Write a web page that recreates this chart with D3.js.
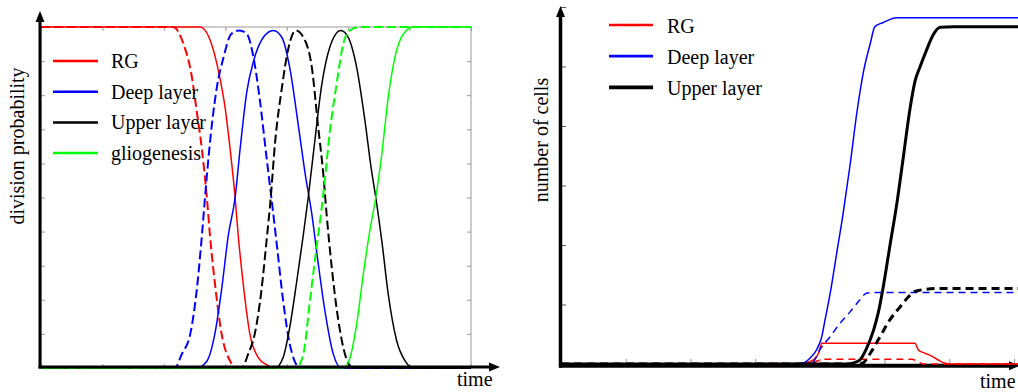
<!DOCTYPE html>
<html>
<head>
<meta charset="utf-8">
<script src="https://cdn.jsdelivr.net/npm/d3@7"></script>
<style>
  body { margin: 0; background: #fff; }
  svg { display: block; }
  svg text { font-family: 'Liberation Serif', 'DejaVu Serif', 'Times New Roman', serif; }
</style>
</head>
<body>
<svg id="chart" width="1018" height="392"></svg>
<script>
// ---- left panel: division probability over time, pairs are [time, probability]
const rgProb = [[0,1],[25.9,1],[28.1,.93],[28.9,.87],[30.0,.76],[30.8,.64],[31.6,.5],[32.1,.39],[32.9,.25],[34.0,.10],[35.4,.03],[36.7,.01],[38.1,0],[70,0]];
const rgProbDash = [[0,1],[21.5,1],[23.2,.95],[24.5,.86],[25.3,.76],[26.2,.64],[27.0,.5],[27.5,.39],[28.3,.25],[29.4,.10],[30.8,.02],[31.9,0],[70,0]];
const deepProbDash = [[0,0],[21.8,0],[22.9,.04],[24.3,.10],[25.3,.22],[26.2,.39],[26.7,.5],[27.5,.66],[28.6,.82],[29.7,.91],[31.0,.98],[32.3,.99],[33.5,.98],[34.6,.91],[35.6,.79],[36.7,.62],[37.5,.5],[38.4,.36],[39.4,.2],[40.5,.07],[42.2,0],[70,0]];
const deepProb = [[0,0],[25.3,0],[27.0,.02],[28.3,.10],[29.4,.23],[30.5,.39],[31.6,.5],[32.4,.64],[33.5,.81],[34.6,.90],[36.2,.97],[37.8,.99],[39.2,.97],[40.5,.88],[41.9,.71],[43.0,.57],[44.1,.45],[45.1,.31],[46.2,.17],[47.6,.04],[48.9,0],[70,0]];
const upperProbDash = [[0,0],[32.7,0],[33.7,.04],[34.8,.10],[35.9,.23],[36.7,.37],[37.4,.5],[38.1,.66],[39.2,.82],[40.3,.94],[41.5,.99],[42.7,.97],[44.1,.88],[45.1,.71],[46.0,.56],[46.5,.45],[47.3,.30],[48.4,.14],[49.5,.04],[50.8,0],[70,0]];
const upperProb = [[0,0],[38.1,0],[39.4,.03],[40.5,.12],[41.6,.25],[42.7,.39],[43.5,.5],[44.6,.67],[45.7,.83],[47.0,.94],[48.8,.99],[50.0,.97],[51.4,.88],[52.7,.73],[53.8,.58],[54.5,.5],[55.5,.37],[56.5,.22],[57.9,.08],[59.3,.02],[60.6,0],[70,0]];
const glioProbDash = [[0,0],[41.5,0],[42.7,.04],[43.8,.20],[44.9,.36],[45.7,.47],[46.2,.55],[47.0,.69],[48.1,.83],[49.2,.95],[50.3,.99],[51.9,1],[70,1]];
const glioProb = [[0,0],[49.2,0],[50.3,.03],[51.4,.13],[52.5,.28],[53.6,.41],[54.5,.5],[55.5,.63],[56.5,.79],[57.6,.91],[59.0,.98],[60.6,1],[70,1]];
const leftLegend = ['RG', 'Deep layer', 'Upper layer', 'gliogenesis'];

// ---- right panel: number of cells over time, pairs are [time, cells]
const rgCells = [[0,0],[3.6,0],[3.75,.01],[3.90,.07],[3.98,.18],[4.03,.35],[5.47,.35],[5.52,.24],[5.60,.19],[5.70,.15],[5.81,.08],[5.91,.02],[5.99,0],[7.1,0]];
const rgCellsDash = [[0,0],[3.85,.01],[3.98,.06],[4.08,.08],[5.42,.08],[5.50,.05],[5.60,0],[7.1,0]];
const deepCellsDash = [[0,0],[3.8,0],[3.90,.04],[4.0,.24],[4.16,.46],[4.31,.68],[4.47,.88],[4.62,1.08],[4.72,1.19],[4.83,1.20],[7.1,1.20]];
const upperCellsDash = [[0,0],[4.6,0],[4.67,.02],[4.78,.18],[4.93,.46],[5.08,.74],[5.24,.96],[5.37,1.13],[5.47,1.22],[5.60,1.25],[5.86,1.27],[7.1,1.27]];
const deepCells = [[0,0],[3.59,0],[3.75,.02],[3.85,.10],[3.95,.24],[4.03,.46],[4.08,.74],[4.16,1.19],[4.26,1.86],[4.36,2.53],[4.47,3.37],[4.57,4.21],[4.67,4.89],[4.78,5.39],[4.85,5.67],[4.98,5.74],[5.19,5.82],[7.1,5.82]];
const upperCells = [[0,0],[4.45,0],[4.52,.02],[4.62,.07],[4.72,.26],[4.83,.57],[4.90,.85],[4.98,1.30],[5.08,1.97],[5.19,2.70],[5.29,3.48],[5.39,4.27],[5.47,4.75],[5.55,5.00],[5.65,5.28],[5.75,5.53],[5.86,5.66],[6.06,5.67],[7.1,5.67]];
const rightLegend = ['RG', 'Deep layer', 'Upper layer'];

const serif = "'Liberation Serif', 'DejaVu Serif', serif";
const svg = d3.select('#chart').attr('font-family', serif);

// arrow head helpers
function arrowUp(g, x, y) {
  g.append('path').attr('d', `M${x},${y} L${x - 4.5},${y + 11} L${x + 4.5},${y + 11} Z`).attr('fill', '#000');
}
function arrowRight(g, x, y) {
  g.append('path').attr('d', `M${x},${y} L${x - 11},${y - 4.5} L${x - 11},${y + 4.5} Z`).attr('fill', '#000');
}

function drawLine(g, line, data, color, width, dash) {
  g.append('path')
      .datum(data)
      .attr('d', line)
      .attr('fill', 'none')
      .attr('stroke', color)
      .attr('stroke-width', width)
      .attr('stroke-dasharray', dash || null)
      .attr('stroke-linejoin', 'round');
}

function addText(g, x, y, str) {
  return g.append('text').attr('x', x).attr('y', y)
      .attr('font-family', serif).attr('font-size', 20).text(str);
}

// =================== left panel ===================
const left = svg.append('g');
const xL = d3.scaleLinear().domain([0, 70]).range([41, 471]);
const yL = d3.scaleLinear().domain([0, 1]).range([368, 27]);

// gray frame
left.append('rect')
    .attr('x', xL(0)).attr('y', yL(1))
    .attr('width', xL(70) - xL(0)).attr('height', yL(0) - yL(1))
    .attr('fill', 'none').attr('stroke', '#999').attr('stroke-width', 1);

// inward gray ticks on all four sides
const grayTicks = (sel) => {
  sel.select('.domain').remove();
  sel.selectAll('.tick line').attr('stroke', '#999');
  sel.selectAll('.tick text').remove();
};
left.append('g').attr('transform', `translate(${xL(0)},0)`)
    .call(d3.axisRight(yL).ticks(10).tickSize(4)).call(grayTicks);
left.append('g').attr('transform', `translate(${xL(70)},0)`)
    .call(d3.axisLeft(yL).ticks(10).tickSize(4)).call(grayTicks);
left.append('g').attr('transform', `translate(0,${yL(0)})`)
    .call(d3.axisTop(xL).ticks(7).tickSize(4)).call(grayTicks);
left.append('g').attr('transform', `translate(0,${yL(1)})`)
    .call(d3.axisBottom(xL).ticks(7).tickSize(4)).call(grayTicks);

const lineL = d3.line().x(d => xL(d[0])).y(d => yL(d[1])).curve(d3.curveMonotoneX);
drawLine(left, lineL, rgProbDash, '#ff0000', 2, '9,4');
drawLine(left, lineL, rgProb, '#ff0000', 1.5);
drawLine(left, lineL, deepProbDash, '#0000ff', 2, '9,4');
drawLine(left, lineL, deepProb, '#0000ff', 1.5);
drawLine(left, lineL, upperProbDash, '#000000', 2, '9,4');
drawLine(left, lineL, upperProb, '#000000', 1.5);
drawLine(left, lineL, glioProbDash, '#00ff00', 2, '9,4');
drawLine(left, lineL, glioProb, '#00ff00', 1.5);

// black axes with arrows
left.append('line').attr('x1', 40).attr('x2', 40).attr('y1', 368.5).attr('y2', 18)
    .attr('stroke', '#000').attr('stroke-width', 3);
arrowUp(left, 40, 11);
left.append('line').attr('x1', 38.5).attr('x2', 492).attr('y1', 367).attr('y2', 367)
    .attr('stroke', '#000').attr('stroke-width', 3);
arrowRight(left, 500, 367);

addText(left, 457, 386, 'time');
left.append('text')
    .attr('transform', 'translate(24,146) rotate(-90)')
    .attr('text-anchor', 'middle').attr('font-size', 20).attr('font-family', serif)
    .text('division probability');

const legColorsL = ['#ff0000', '#0000ff', '#000000', '#00ff00'];
const legL = left.selectAll('.legL').data(leftLegend).enter().append('g')
    .attr('transform', (d, i) => `translate(53,${61 + i * 30.7})`);
legL.append('line').attr('x1', 0).attr('x2', 45)
    .attr('stroke', (d, i) => legColorsL[i]).attr('stroke-width', 2.5);
legL.append('text').attr('x', 58).attr('y', 7)
    .attr('font-family', serif).attr('font-size', 20).text(d => d);

// =================== right panel ===================
const right = svg.append('g');
const xR = d3.scaleLinear().domain([0, 7]).range([561, 1014]);
const yR = d3.scaleLinear().domain([0, 6]).range([364, 7]);

right.append('g').attr('transform', `translate(${xR(0)},0)`)
    .call(d3.axisRight(yR).ticks(6).tickSize(5))
    .call(sel => {
      sel.select('.domain').remove();
      sel.selectAll('.tick text').remove();
      sel.selectAll('.tick line').attr('stroke', '#555');
    });
right.append('g').attr('transform', `translate(0,${yR(0)})`)
    .call(d3.axisTop(xR).ticks(7).tickSize(5))
    .call(grayTicks);

// axes under the curves here, the red line rides on top of the x axis
right.append('line').attr('x1', 560.5).attr('x2', 560.5).attr('y1', 367.5).attr('y2', 15)
    .attr('stroke', '#000').attr('stroke-width', 3.5);
arrowUp(right, 560.5, 6);
right.append('line').attr('x1', 559).attr('x2', 1010).attr('y1', 365.7).attr('y2', 365.7)
    .attr('stroke', '#000').attr('stroke-width', 4);
arrowRight(right, 1020, 365.7);

const lineR = d3.line().x(d => xR(d[0])).y(d => yR(d[1])).curve(d3.curveMonotoneX);
drawLine(right, lineR, rgCells, '#ff0000', 1.5);
drawLine(right, lineR, rgCellsDash, '#ff0000', 1.5, '7,5');
drawLine(right, lineR, deepCellsDash, '#0000ff', 1.5, '7,5');
drawLine(right, lineR, upperCellsDash, '#000000', 3, '8,5');
drawLine(right, lineR, deepCells, '#0000ff', 1.5);
drawLine(right, lineR, upperCells, '#000000', 3);

// kept just inside the right edge so the label is not clipped
addText(right, 980, 388, 'time');
right.append('text')
    .attr('transform', 'translate(548,140) rotate(-90)')
    .attr('text-anchor', 'middle').attr('font-size', 20).attr('font-family', serif)
    .text('number of cells');

const legColorsR = ['#ff0000', '#0000ff', '#000000'];
const legWidthR = [2.7, 2.7, 3.7];
const legR = right.selectAll('.legR').data(rightLegend).enter().append('g')
    .attr('transform', (d, i) => `translate(609,${25 + i * 31.2})`);
legR.append('line').attr('x1', 0).attr('x2', 44)
    .attr('stroke', (d, i) => legColorsR[i]).attr('stroke-width', (d, i) => legWidthR[i]);
legR.append('text').attr('x', 58).attr('y', 8)
    .attr('font-family', serif).attr('font-size', 20).text(d => d);
</script>
</body>
</html>
